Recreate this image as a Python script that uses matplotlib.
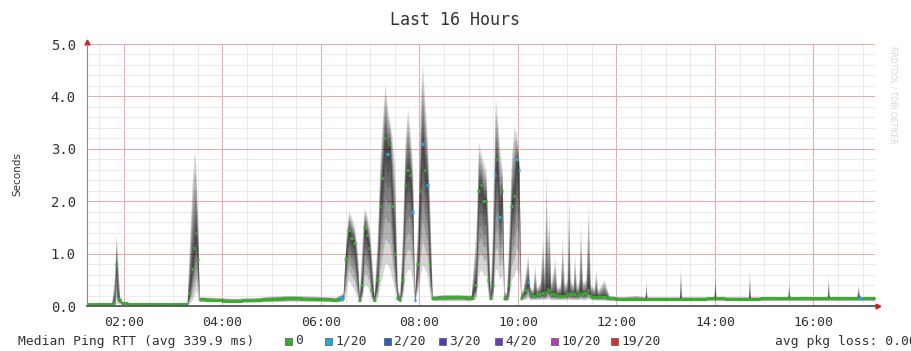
import matplotlib
matplotlib.use("Agg")
from matplotlib import pyplot as plt
from matplotlib.patches import Rectangle
from matplotlib.ticker import MultipleLocator, FuncFormatter

# time of day in hours, one row per stretch of the graph
hours = [1.25, 1.50, 1.75, 1.81, 1.84, 1.87, 1.91, 1.97, 2.20, 2.50, 2.80, 3.10, 3.28,
         3.33, 3.38, 3.43, 3.46, 3.50, 3.53, 3.80, 4.20, 4.60, 5.00, 5.40, 5.80, 6.10, 6.30, 6.45,
         6.50, 6.56, 6.62, 6.68, 6.74, 6.78, 6.84, 6.88, 6.93, 6.98, 7.03, 7.08,
         7.15, 7.20, 7.25, 7.30, 7.35, 7.40, 7.45, 7.50, 7.55, 7.60, 7.66, 7.71, 7.76, 7.81, 7.86, 7.90,
         7.97, 8.02, 8.06, 8.11, 8.16, 8.21, 8.26, 8.50, 8.80, 9.05,
         9.15, 9.20, 9.25, 9.30, 9.35, 9.40, 9.44, 9.49, 9.54, 9.58, 9.63, 9.68, 9.72, 9.77, 9.82, 9.87, 9.92, 9.97, 10.02, 10.06,
         10.10, 10.16, 10.20, 10.24, 10.30, 10.34, 10.38, 10.45, 10.50, 10.54, 10.57, 10.60, 10.63, 10.67, 10.75, 10.79, 10.86, 10.90,
         10.94, 11.00, 11.03, 11.06, 11.12, 11.15, 11.19, 11.24, 11.27, 11.31, 11.38, 11.43, 11.47, 11.55, 11.58, 11.62, 11.75, 11.85,
         12.10, 12.40, 12.58, 12.60, 12.62, 13.00, 13.28, 13.30, 13.32, 13.70, 13.98, 14.00, 14.02, 14.40, 14.68, 14.70, 14.72, 15.10, 15.48, 15.50, 15.52, 15.90, 16.28, 16.30, 16.32, 16.70, 16.88, 16.90, 16.95, 17.05, 17.25]

# median RTT (seconds)
median = [.03, .03, .03, .05, .80, .15, .12, .05, .03, .04, .03, .03, .03,
          .25, .70, 1.10, 1.40, .90, .13, .12, .10, .11, .14, .15, .14, .13, .12, .16,
          .90, 1.45, 1.30, 1.20, .50, .12, .40, 1.50, 1.35, 1.10, .30, .12,
          .50, 1.90, 2.45, 3.20, 2.90, 3.10, 1.90, 1.00, .15, .12, .50, 2.30, 2.60, 2.50, 1.80, .12,
          .80, 2.20, 3.10, 2.60, 2.30, .80, .15, .17, .18, .16,
          .40, 2.20, 2.30, 2.00, 2.00, .50, .15, .40, 2.50, 2.80, 1.70, 2.20, .15, .15, .40, 1.90, 2.10, 2.80, 2.60, .15,
          .20, .30, .45, .22, .20, .20, .22, .22, .24, .22, .26, .32, .30, .22, .22, .20, .20, .20,
          .20, .22, .24, .22, .22, .22, .20, .22, .25, .22, .24, .30, .20, .18, .18, .17, .18, .15,
          .14, .14, .14, .14, .14, .13, .14, .14, .14, .14, .15, .15, .15, .14, .14, .14, .14, .15, .15, .15, .15, .15, .15, .15, .15, .15, .15, .15, .15, .15, .15]

# lowest and highest of the 20 pings (the smoke)
smoke_lo = [.02, .02, .02, .03, .05, .05, .04, .03, .02, .02, .02, .02, .02,
            .05, .10, .20, .30, .20, .08, .08, .07, .07, .08, .09, .09, .08, .08, .08,
            .20, .50, .40, .30, .15, .08, .15, .40, .40, .30, .10, .08,
            .15, .40, .60, .80, .80, .70, .50, .30, .10, .08, .15, .60, .70, .70, .50, .08,
            .30, .60, .80, .70, .60, .20, .10, .10, .10, .10,
            .15, .60, .70, .60, .60, .15, .10, .15, .70, .70, .50, .60, .10, .10, .15, .50, .60, .70, .60, .10,
            .12, .13, .15, .12, .12, .12, .12, .12, .13, .12, .13, .14, .14, .12, .12, .12, .12, .12,
            .12, .12, .13, .12, .12, .12, .12, .12, .13, .12, .12, .14, .12, .11, .11, .11, .11, .10,
            .10, .10, .10, .10, .10, .10, .10, .10, .10, .10, .10, .10, .10, .10, .10, .10, .10, .10, .10, .10, .10, .10, .10, .10, .10, .10, .10, .10, .10, .10, .10]

smoke_hi = [.05, .05, .06, .60, 1.37, 1.00, .20, .08, .06, .06, .05, .05, .06,
            1.20, 2.30, 2.96, 2.70, 1.60, .18, .17, .15, .16, .19, .20, .19, .18, .17, .25,
            1.20, 1.81, 1.70, 1.50, 1.10, .20, 1.40, 1.87, 1.75, 1.50, 1.00, .20,
            1.50, 2.80, 3.60, 4.24, 3.80, 3.50, 3.20, 2.60, .40, .20, 1.60, 3.20, 3.78, 3.30, 2.70, .20,
            1.80, 4.00, 4.62, 3.90, 3.20, 2.00, .20, .22, .22, .21,
            1.50, 3.15, 2.90, 2.75, 2.60, 1.50, .25, 1.80, 4.00, 3.60, 3.00, 2.60, .30, .25, 1.60, 2.90, 3.40, 3.30, 2.80, .30,
            .30, .70, 1.00, .40, .30, .80, .35, .45, 1.30, .60, 2.60, 1.20, 1.75, .40, .90, .35, .40, 1.30,
            .40, .50, 2.30, .50, .40, 1.00, .35, .50, 1.60, .45, .50, 2.00, .40, .35, .70, .30, .50, .20,
            .18, .20, .18, .50, .18, .18, .18, .80, .18, .18, .18, .60, .18, .18, .18, .70, .18, .18, .18, .50, .18, .18, .18, .60, .18, .18, .18, .40, .18, .18, .18]

# lost pings out of 20
loss = [0, 0, 0, 0, 0, 0, 0, 0, 0, 0, 0, 0, 0,
        0, 0, 0, 0, 0, 0, 0, 0, 0, 0, 0, 0, 0, 0, 1,
        0, 0, 0, 0, 0, 0, 0, 0, 0, 0, 0, 0,
        0, 0, 0, 0, 1, 0, 0, 0, 0, 0, 0, 0, 0, 0, 1, 1,
        0, 0, 1, 0, 1, 0, 0, 0, 0, 0,
        0, 0, 0, 0, 0, 0, 0, 0, 1, 0, 1, 0, 0, 0, 0, 0, 0, 1, 1, 0,
        0, 0, 1, 0, 0, 0, 0, 0, 0, 0, 0, 0, 0, 0, 0, 0, 0, 0,
        0, 0, 0, 0, 0, 0, 0, 0, 0, 0, 0, 0, 0, 0, 0, 0, 0, 0,
        0, 0, 0, 0, 0, 0, 0, 0, 0, 0, 0, 0, 0, 0, 0, 0, 0, 0, 0, 0, 0, 0, 0, 0, 0, 0, 0, 0, 1, 0, 0]

loss_labels = ["0", "1/20", "2/20", "3/20", "4/20", "10/20", "19/20"]
loss_colors = ["#3aae2c", "#1ea9dc", "#2c5cc4", "#4b3db2", "#6b3cb4", "#b23fb4", "#d93030"]
loss_steps = [0, 1, 2, 3, 4, 10, 19]

mono = "DejaVu Sans Mono"
txt = "#333333"

fig = plt.figure(figsize=(9.11, 3.51), dpi=100)
ax = fig.add_axes([87 / 911, 45 / 351, 788 / 911, 262 / 351])
ax.set_xlim(1.25, 17.25)
ax.set_ylim(0, 5.0)

ax.xaxis.set_major_locator(MultipleLocator(2))
ax.xaxis.set_minor_locator(MultipleLocator(0.5))
ax.yaxis.set_major_locator(MultipleLocator(1))
ax.yaxis.set_minor_locator(MultipleLocator(0.2))
ax.xaxis.set_major_formatter(FuncFormatter(lambda v, p: "%02d:00" % int(round(v))))
ax.yaxis.set_major_formatter(FuncFormatter(lambda v, p: "%.1f" % v))
ax.grid(which="minor", color="#e6e6e6", lw=0.6)
ax.grid(which="major", color="#f2a6a6", lw=0.7)
ax.set_axisbelow(True)
ax.tick_params(which="both", length=0)
ax.tick_params(axis="x", pad=7, labelsize=9.5, labelcolor=txt)
ax.tick_params(axis="y", pad=8, labelsize=10, labelcolor=txt)
for lab in ax.get_xticklabels() + ax.get_yticklabels():
    lab.set_family(mono)

# smoke: nested bands, darker towards the median
for f in [1.0, 0.8, 0.62, 0.46, 0.32, 0.2, 0.1]:
    lo = [m - (m - l) * f for m, l in zip(median, smoke_lo)]
    hi = [m + (h - m) * f for m, h in zip(median, smoke_hi)]
    ax.fill_between(hours, lo, hi, color="black", alpha=0.16, lw=0)

# median as short pieces, coloured by loss
edges = [hours[0]] + [(a + b) / 2 for a, b in zip(hours[:-1], hours[1:])] + [hours[-1]]
for i, m in enumerate(median):
    c = loss_colors[loss_steps.index(loss[i])]
    ax.hlines(m, edges[i], edges[i + 1], color=c, lw=2.2)

for s in ["top", "right"]:
    ax.spines[s].set_visible(False)
ax.spines["left"].set_color("#888888")
ax.spines["bottom"].set_color("#555555")
ax.spines["bottom"].set_linewidth(1.3)
ax.plot(1.004, 0, ">", transform=ax.transAxes, color="#cc2222", ms=3.5, clip_on=False)
ax.plot(0, 1.008, "^", transform=ax.transAxes, color="#cc2222", ms=3.5, clip_on=False)

fig.text(0.5, 1 - 20 / 351, "Last 16 Hours", family=mono, fontsize=12,
         color=txt, ha="center", va="center")
fig.text(17 / 911, 1 - 174 / 351, "Seconds", fontsize=7.5, color=txt,
         rotation=90, ha="center", va="center")
fig.text(893 / 911, 1 - 95 / 351, "RRDTOOL / TOBI OETIKER", fontsize=5.5,
         color="#d6d6d6", rotation=270, ha="center", va="center")

# legend row
ly = 341
fig.text(18 / 911, 1 - ly / 351, "Median Ping RTT (avg 339.9 ms)", family=mono,
         fontsize=9.4, color=txt, ha="left", va="center")
sq_x = [285, 325, 384, 439, 495, 551, 611]
for x, lab, c in zip(sq_x, loss_labels, loss_colors):
    fig.add_artist(Rectangle((x / 911, 1 - (ly + 4) / 351), 7 / 911, 7 / 351,
                             transform=fig.transFigure, facecolor=c,
                             edgecolor="#555555", lw=0.5))
    fig.text((x + 10) / 911, 1 - ly / 351, lab, family=mono, fontsize=9.4,
             color=txt, ha="left", va="center")
fig.text(775 / 911, 1 - ly / 351, "avg pkg loss: 0.00 %", family=mono,
         fontsize=9.4, color=txt, ha="left", va="center")

fig.savefig("out.png", dpi=100)
